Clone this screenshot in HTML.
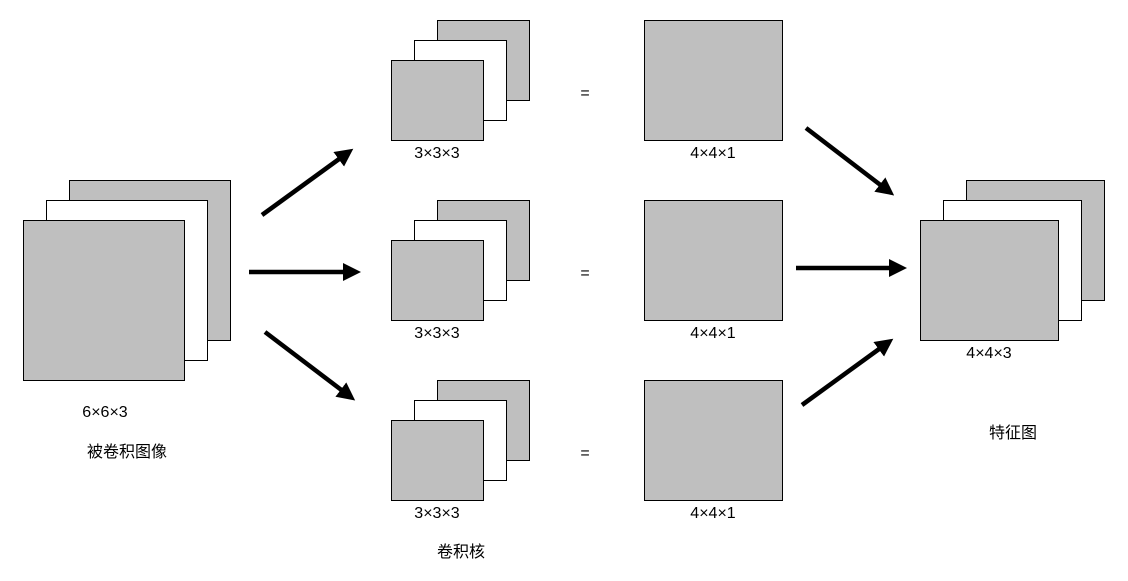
<!DOCTYPE html>
<html><head><meta charset="utf-8">
<style>
html,body{margin:0;padding:0;background:#fff;}
svg{display:block;}
text{font-family:"Liberation Sans","Noto Sans CJK SC",sans-serif;font-size:16px;fill:#000;}
</style></head>
<body>
<svg width="1128" height="581" viewBox="0 0 1128 581">
<defs>
<marker id="ah" markerWidth="4" markerHeight="4" refX="2" refY="2" orient="auto" markerUnits="strokeWidth">
<path d="M0,0 L4,2 L0,4 z" fill="#000"/>
</marker>
</defs>
<g stroke="#000" stroke-width="1">
<g>
<rect x="69.5" y="180.5" width="161" height="160" fill="#bfbfbf"/>
<rect x="46.5" y="200.5" width="161" height="160" fill="#fff"/>
<rect x="23.5" y="220.5" width="161" height="160" fill="#bfbfbf"/>
</g>
<g>
<rect x="437.5" y="20.5" width="92" height="80" fill="#bfbfbf"/>
<rect x="414.5" y="40.5" width="92" height="80" fill="#fff"/>
<rect x="391.5" y="60.5" width="92" height="80" fill="#bfbfbf"/>
</g>
<g>
<rect x="437.5" y="200.5" width="92" height="80" fill="#bfbfbf"/>
<rect x="414.5" y="220.5" width="92" height="80" fill="#fff"/>
<rect x="391.5" y="240.5" width="92" height="80" fill="#bfbfbf"/>
</g>
<g>
<rect x="437.5" y="380.5" width="92" height="80" fill="#bfbfbf"/>
<rect x="414.5" y="400.5" width="92" height="80" fill="#fff"/>
<rect x="391.5" y="420.5" width="92" height="80" fill="#bfbfbf"/>
</g>
<rect x="644.5" y="20.5" width="138" height="120" fill="#bfbfbf"/>
<rect x="644.5" y="200.5" width="138" height="120" fill="#bfbfbf"/>
<rect x="644.5" y="380.5" width="138" height="120" fill="#bfbfbf"/>
<g>
<rect x="966.5" y="180.5" width="138" height="120" fill="#bfbfbf"/>
<rect x="943.5" y="200.5" width="138" height="120" fill="#fff"/>
<rect x="920.5" y="220.5" width="138" height="120" fill="#bfbfbf"/>
</g>
</g>
<g stroke="#000" stroke-width="4.5" marker-end="url(#ah)">
<line x1="262" y1="215" x2="346" y2="154"/>
<line x1="249" y1="272" x2="352" y2="272"/>
<line x1="265" y1="332" x2="348" y2="395"/>
<line x1="806" y1="128" x2="887" y2="190"/>
<line x1="796" y1="268" x2="898" y2="268"/>
<line x1="802" y1="405" x2="886" y2="344"/>
</g>
<g text-anchor="middle">
<text x="105" y="417">6×6×3</text>
<text x="127" y="457">被卷积图像</text>
<text x="437" y="158">3×3×3</text>
<text x="437" y="338">3×3×3</text>
<text x="437" y="518">3×3×3</text>
<text x="461" y="557">卷积核</text>
<text x="585" y="98">=</text>
<text x="585" y="278">=</text>
<text x="585" y="458">=</text>
<text x="713" y="158">4×4×1</text>
<text x="713" y="338">4×4×1</text>
<text x="713" y="518">4×4×1</text>
<text x="989" y="358">4×4×3</text>
<text x="1013" y="438">特征图</text>
</g>
</svg>
</body></html>
